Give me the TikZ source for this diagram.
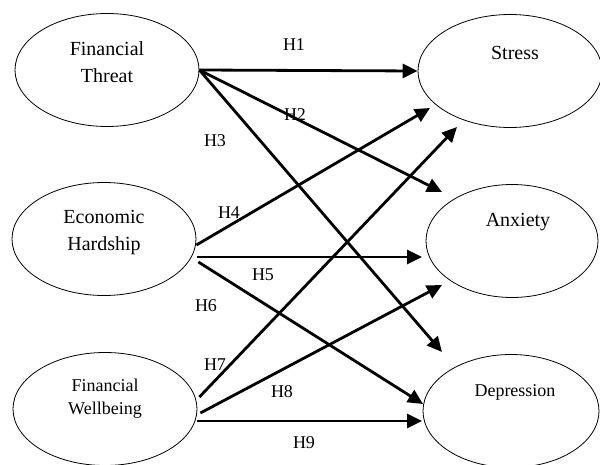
\documentclass[tikz,border=0pt]{standalone}
\usepackage{fontspec}
\setmainfont{Liberation Serif}
\usetikzlibrary{arrows.meta,shapes.geometric}
\begin{document}
\begin{tikzpicture}[x=1pt,y=-1pt,
  var/.style={ellipse,draw,line width=0.8pt,minimum width=184pt,minimum height=113pt,inner sep=0pt},
  lab/.style={font=\fontsize{20}{27}\selectfont,align=center,inner sep=0pt},
  slab/.style={font=\fontsize{18}{23}\selectfont,align=center,inner sep=0pt},
  hyp/.style={font=\fontsize{18}{20}\selectfont,inner sep=0pt},
  arr/.style={line width=2.8pt,-{Triangle[length=15pt,width=14pt]}}
]
\useasboundingbox (0,0) rectangle (600,465);
% ellipses
\node[var] (ft) at (107,70) {};
\node[var] (eh) at (104,239) {};
\node[var] (fw) at (105,409) {};
\node[var] (st) at (510,71) {};
\node[var,minimum width=172pt] (an) at (512,241) {};
\node[var,minimum width=176pt] (de) at (511,411) {};
% texts
\node[lab] (tft) at (107,62) {Financial\\Threat};
\node[lab] (teh) at (104,233) {Economic\\Hardship};
\node[slab] (tfw) at (105,399) {Financial\\Wellbeing};
\node[lab] (tst) at (515,53) {Stress};
\node[lab] (tan) at (518,222) {Anxiety};
\node[slab] (tde) at (515,392) {Depression};
% free ends
\coordinate (e2) at (442,192);
\coordinate (e3) at (442,352);
\coordinate (e4) at (430,108);
\coordinate (e5) at (422,257);
\coordinate (e6) at (423,404);
\coordinate (e7) at (457,127);
\coordinate (e8) at (442,285);
\coordinate (e9) at (422,421);
% connectors
\draw[arr] (ft.east) -- (st.west);
\draw[arr] (ft.east) -- (e2);
\draw[arr] (ft.east) -- (e3);
\draw[arr] ([yshift=-6pt]eh.east) -- (e4);
\draw[arr] ([xshift=1pt,yshift=-18pt]eh.east) -- (e5);
\draw[arr] ([xshift=2pt,yshift=-23pt]eh.east) -- (e6);
\draw[arr] ([xshift=2pt,yshift=12pt]fw.east) -- (e7);
\draw[arr] ([xshift=3pt,yshift=-4pt]fw.east) -- (e8);
\draw[arr] ([yshift=-12pt]fw.east) -- (e9);
% hypothesis labels
\node[hyp] (h1) at (294,45) {H1};
\node[hyp] (h2) at (295,115) {H2};
\node[hyp] (h3) at (215,141) {H3};
\node[hyp] (h4) at (229,213) {H4};
\node[hyp] (h5) at (263,275) {H5};
\node[hyp] (h6) at (206,306) {H6};
\node[hyp] (h7) at (215,365) {H7};
\node[hyp] (h8) at (282,392) {H8};
\node[hyp] (h9) at (304,443) {H9};
\end{tikzpicture}
\end{document}
